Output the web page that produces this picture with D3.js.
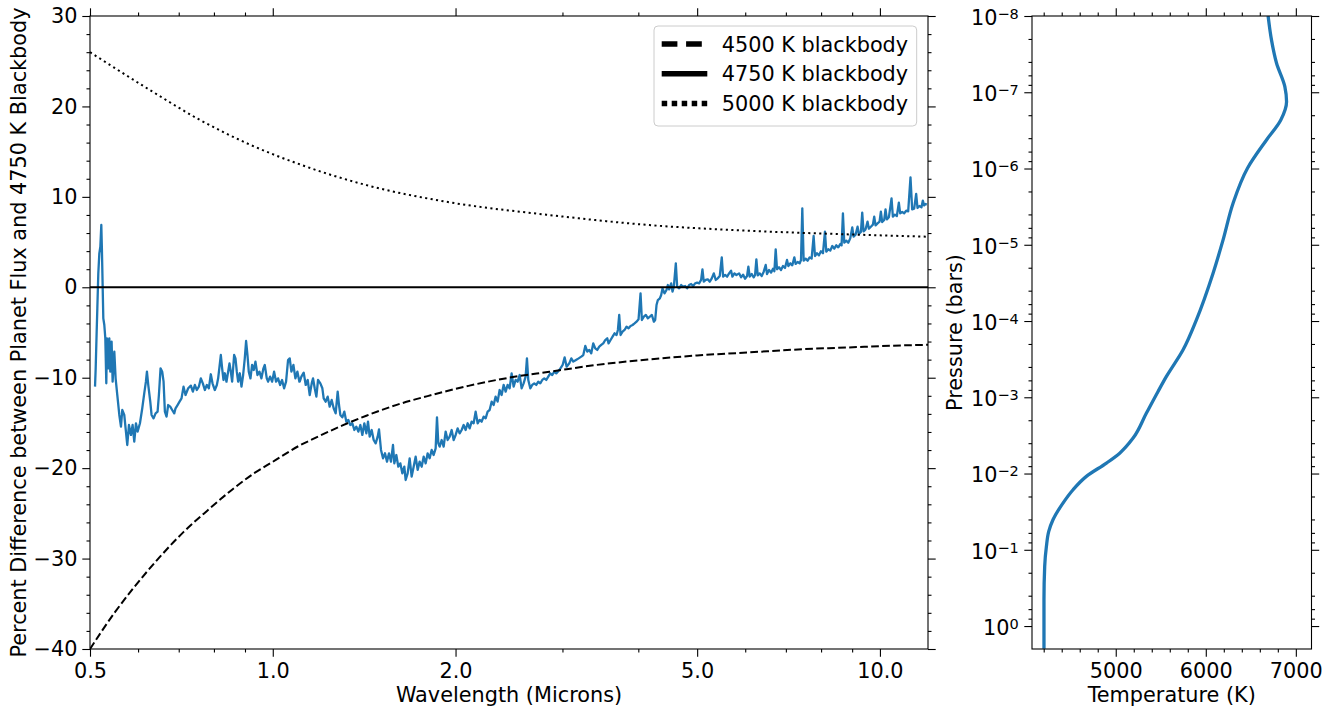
<!DOCTYPE html>
<html>
<head>
<meta charset="utf-8">
<script src="https://cdn.jsdelivr.net/npm/d3@7"></script>
<style>
  body { margin: 0; background: #fff; }
  svg { font-family: "DejaVu Sans", sans-serif; }
</style>
</head>
<body>
<svg id="chart" width="1334" height="709"></svg>
<script>
// ---- spectrum: percent difference vs wavelength (microns)
var specWave = [
  0.5096,0.5109,0.5128,0.5141,0.5160,0.5180,0.5200,0.5219,0.5232,0.5246,
  0.5259,0.5279,0.5299,0.5319,0.5332,0.5360,0.5380,0.5400,0.5427,0.5448,
  0.5483,0.5510,0.5545,0.5588,0.5623,0.5651,0.5694,0.5723,0.5759,0.5796,
  0.5840,0.5877,0.5914,0.5952,0.5989,0.6043,0.6096,0.6142,0.6181,0.6205,
  0.6236,0.6284,0.6315,0.6363,0.6412,0.6461,0.6493,0.6534,0.6575,0.6609,
  0.6642,0.6684,0.6726,0.6778,0.6829,0.6882,0.6916,0.6969,0.7022,0.7075,
  0.7129,0.7183,0.7256,0.7330,0.7386,0.7441,0.7498,0.7555,0.7613,0.7670,
  0.7729,0.7788,0.7847,0.7906,0.7957,0.8027,0.8089,0.8129,0.8171,0.8212,
  0.8253,0.8295,0.8337,0.8390,0.8443,0.8486,0.8529,0.8572,0.8637,0.8681,
  0.8725,0.8769,0.8825,0.8881,0.8937,0.8993,0.9038,0.9085,0.9130,0.9189,
  0.9246,0.9305,0.9364,0.9436,0.9507,0.9579,0.9652,0.9701,0.9775,0.9824,
  0.9899,0.9974,1.0050,1.0126,1.0203,1.0281,1.0359,1.0438,1.0517,1.0597,
  1.0664,1.0732,1.0814,1.0896,1.0979,1.1062,
  1.1076,1.1146,1.1245,1.1331,1.1417,1.1504,1.1592,1.1650,1.1724,1.1798,
  1.1873,1.1978,1.2069,1.2130,1.2222,1.2315,1.2409,1.2503,1.2598,1.2694,
  1.2791,1.2856,1.2921,1.3019,1.3118,1.3218,1.3319,1.3420,1.3522,1.3625,
  1.3729,1.3834,1.3939,1.4045,1.4152,1.4260,1.4350,1.4441,1.4551,1.4662,
  1.4773,1.4886,1.4961,1.5075,1.5190,1.5305,1.5422,1.5539,1.5658,1.5777,
  1.5857,1.5977,1.6099,1.6221,1.6345,1.6469,1.6552,1.6678,1.6805,1.6933,
  1.7062,1.7192,1.7323,1.7455,1.7588,1.7722,1.7857,1.7993,1.8130,1.8268,
  1.8407,1.8547,1.8641,1.8735,1.8830,1.8973,1.9118,1.9263,1.9410,1.9558,
  1.9707,1.9857,2.0008,2.0160,2.0314,2.0468,2.0624,2.0781,2.0939,2.1099,
  2.1259,2.1421,2.1584,2.1749,2.1914,2.2081,2.2249,2.2418,2.2589,2.2761,
  2.2934,2.3108,2.3284,2.3461,2.3640,2.3820,2.4001,2.4184,2.4368,2.4553,
  2.4740,2.4928,2.5118,2.5309,2.5502,2.5696,2.5891,2.6088,2.6220,2.6353,
  2.6553,2.6755,2.6959,2.7164,2.7371,2.7579,2.7789,2.8000,2.8213,2.8428,
  2.8644,2.8862,2.9082,2.9303,
  2.9646,3.0022,3.0251,3.0481,3.0789,3.1023,3.1259,3.1578,3.1897,3.2221,
  3.2466,3.2713,3.2960,3.3213,3.3463,3.3719,3.3975,3.4233,3.4494,3.4755,
  3.5019,3.5288,3.5555,3.5734,3.6006,3.6280,3.6555,3.6833,3.7020,3.7206,
  3.7396,3.7679,3.7967,3.8256,3.8548,3.8839,3.9136,3.9433,3.9732,4.0035,
  4.0339,4.0543,4.0851,4.1161,4.1474,4.1790,4.2109,4.2428,4.2643,4.2860,
  4.3077,4.3404,4.3624,4.3844,4.4177,4.4515,4.4740,4.4965,4.5309,4.5537,
  4.5768,4.6114,4.6348,4.6702,4.7057,4.7414,4.7774,4.8137,4.8502,4.8871,
  4.9244,4.9618,4.9994,5.0374,5.0758,5.1014,5.1272,5.1663,5.2056,5.2452,
  5.2850,5.3254,5.3658,5.4065,5.4477,5.4892,5.5170,5.5588,5.6011,5.6437,
  5.6866,5.7154,5.7588,5.8025,5.8616,
  5.906,5.951,5.996,6.042,6.072,6.103,6.150,6.196,6.228,6.259,
  6.291,6.339,6.387,6.436,6.484,6.517,6.567,6.617,6.667,6.701,
  6.735,6.769,6.820,6.872,6.924,6.977,7.030,7.066,7.119,7.173,
  7.228,7.265,7.320,7.376,7.413,7.450,7.488,7.545,7.602,7.660,
  7.718,7.777,7.817,7.876,7.936,7.996,8.057,8.118,8.159,8.221,
  8.284,8.347,8.410,8.474,8.539,8.604,8.647,8.691,8.735,8.801,
  8.868,8.936,9.004,9.049,9.118,9.187,9.234,9.304,9.351,9.398,
  9.470,9.542,9.590,9.663,9.737,9.786,9.835,9.910,9.986,10.036,
  10.087,10.164,10.215,10.267,10.345,10.450,10.503,10.583,10.663,10.744,
  10.799,10.881,10.963,11.047,11.131,11.229,11.301,11.387,11.473,11.531,
  11.619,11.707,11.766,11.826,11.886,11.946
];
var specDiff = [
  -10.99,-8.96,-4.91,-2.33,1.54,3.75,4.49,6.89,3.94,0.07,
  -3.43,-4.17,-5.64,-10.62,-5.64,-8.96,-5.64,-9.33,-6.01,-10.44,
  -7.12,-10.07,-11.91,-14.12,-15.41,-13.57,-14.12,-15.60,-17.44,-15.23,
  -16.33,-15.23,-17.07,-15.04,-15.96,-15.04,-13.38,-11.73,-10.44,-9.33,
  -10.80,-12.65,-14.12,-14.49,-13.94,-13.75,-11.91,-8.96,-9.33,-10.44,
  -13.75,-14.31,-13.02,-13.20,-13.57,-13.94,-13.38,-13.02,-12.65,-12.28,
  -10.99,-11.91,-11.17,-10.88,-11.54,-10.80,-11.36,-10.99,-10.07,-10.62,
  -11.36,-10.80,-11.17,-9.62,-10.62,-11.36,-10.80,-10.07,-8.78,-7.49,
  -8.96,-10.25,-9.51,-10.44,-9.33,-8.41,-9.33,-10.44,-7.49,-7.86,
  -9.33,-10.44,-9.51,-10.99,-9.70,-7.86,-5.94,-7.49,-9.33,-10.07,
  -8.59,-9.15,-8.22,-9.70,-9.33,-10.07,-8.96,-8.59,-10.07,-10.44,
  -9.88,-10.44,-9.33,-10.44,-10.07,-10.80,-10.25,-11.17,-10.44,-8.04,
  -7.86,-9.33,-8.59,-10.07,-9.33,-10.44,
  -10.44,-9.88,-9.44,-10.80,-10.25,-11.91,-10.62,-10.07,-11.17,-12.09,
  -10.25,-10.62,-11.17,-12.28,-12.65,-12.09,-13.20,-12.46,-13.38,-13.94,
  -11.54,-13.02,-14.12,-14.38,-13.75,-14.86,-14.67,-15.23,-15.04,-15.78,
  -15.41,-15.96,-15.23,-16.33,-15.04,-16.15,-14.86,-16.52,-15.78,-16.89,
  -17.26,-16.52,-15.71,-17.99,-18.91,-18.36,-19.28,-18.36,-19.28,-17.44,
  -19.47,-18.55,-19.84,-19.47,-20.57,-19.84,-21.31,-20.57,-18.91,-20.94,
  -19.84,-18.73,-20.20,-19.28,-19.84,-18.73,-19.47,-18.36,-18.91,-17.99,
  -18.55,-17.81,-14.38,-17.26,-17.62,-16.89,-17.62,-15.96,-16.89,-16.52,
  -15.78,-16.89,-16.33,-15.60,-16.15,-15.78,-15.23,-15.78,-15.04,-15.60,
  -14.86,-15.04,-13.75,-15.04,-14.67,-14.86,-14.31,-14.49,-13.75,-13.57,
  -12.65,-13.02,-12.09,-12.65,-11.36,-11.91,-10.80,-11.54,-10.80,-11.17,
  -9.52,-10.99,-10.25,-10.44,-9.70,-11.17,-10.62,-9.88,-7.86,-10.25,
  -11.17,-10.80,-10.62,-10.80,-10.44,-10.62,-10.25,-10.07,-10.25,-9.88,
  -9.52,-9.70,-9.33,-9.52,
  -9.15,-8.59,-7.75,-8.78,-8.41,-7.86,-8.22,-8.04,-7.86,-7.67,
  -7.49,-6.49,-7.12,-6.93,-7.30,-6.20,-6.75,-6.93,-6.57,-6.38,
  -6.20,-5.83,-5.64,-6.20,-5.83,-5.46,-5.09,-5.28,-4.72,-3.06,
  -5.28,-4.91,-4.72,-4.35,-4.54,-4.28,-4.17,-3.99,-3.80,-3.54,
  -0.67,-3.62,-3.25,-3.06,-3.43,-3.25,-3.06,-3.80,-3.62,-1.96,
  -1.41,-1.22,-0.85,-0.12,-0.67,-0.30,0.25,-0.23,0.44,-0.48,
  0.07,2.65,0.07,-0.12,0.25,0.07,0.14,-0.12,0.25,0.36,
  0.14,0.44,0.51,0.44,0.81,1.99,0.62,0.81,0.88,0.62,
  0.99,1.54,0.81,0.99,1.25,3.31,1.17,1.36,1.17,1.54,
  1.84,1.17,1.54,1.36,1.54,
  1.10,1.40,0.95,1.25,2.28,1.18,1.47,1.10,1.36,3.09,
  1.32,1.54,1.25,1.73,2.47,1.47,1.91,1.62,2.06,1.77,
  4.20,1.99,2.21,1.91,2.35,2.13,3.02,2.35,2.65,2.43,
  3.31,2.58,2.80,2.65,3.02,8.73,2.94,3.17,2.94,3.31,
  3.17,5.67,3.46,3.76,3.53,3.98,3.76,6.15,3.94,4.20,
  4.05,4.57,4.27,4.64,4.42,4.79,4.64,8.18,4.93,5.16,
  4.93,5.41,6.63,5.60,5.82,6.70,5.89,6.11,8.25,6.19,
  6.41,7.26,6.48,6.70,6.93,7.81,6.85,7.07,7.26,8.36,
  7.22,7.44,8.62,7.51,7.74,9.84,7.81,8.03,7.88,9.36,
  8.18,8.33,8.18,8.47,8.40,12.16,8.62,8.69,10.32,8.77,
  8.99,8.84,9.58,9.06,9.21,9.14
];

// ---- blackbody comparison curves (percent difference to 4750 K)
var bb4500Wave = [0.5, 0.55, 0.589, 0.65, 0.712, 0.78, 0.86, 0.93, 1.0, 1.107, 1.18, 1.3, 1.426,
                  1.6, 1.83, 2.1, 2.5, 2.855, 3.4, 4.17, 5.0, 6.09, 7.5, 8.89, 10.5, 12.0];
var bb4500Diff = [-40.0, -35.9, -33.3, -29.9, -27.1, -24.7, -22.3, -20.6, -19.3, -17.5, -16.6, -15.3, -14.2,
                  -13.0, -11.9, -10.9, -9.9, -9.35, -8.6, -7.98, -7.54, -7.2, -6.84, -6.65, -6.46, -6.36];
var bb4750Wave = [0.5, 12.0];
var bb4750Diff = [0, 0];
var bb5000Wave = [0.5, 0.628, 0.759, 0.905, 1.107, 1.426, 1.954, 2.855, 4.17, 6.09, 8.89, 12.0];
var bb5000Diff = [26.0, 21.8, 18.5, 15.95, 13.6, 11.3, 9.4, 7.99, 6.88, 6.25, 5.85, 5.59];

// ---- temperature-pressure profile
var tpTemp = [6692, 6730, 6786, 6878, 6897, 6833, 6674, 6463, 6303, 6192, 6081, 5896,
              5748, 5563, 5470, 5341, 5193, 5044, 4897, 4674, 4526, 4414, 4303, 4256, 4230, 4211, 4203, 4203];
var tpPres = [1.0e-8, 2.07e-8, 4.17e-8, 8.45e-8, 1.33e-7, 2.31e-7, 4.22e-7, 9.91e-7, 2.85e-6, 8.63e-6,
              2.36e-5, 9.64e-5, 2.38e-4, 5.33e-4, 8.39e-4, 1.61e-3, 3.43e-3, 5.40e-3, 7.29e-3,
              1.09e-2, 1.63e-2, 2.44e-2, 4.04e-2, 5.74e-2, 9.02e-2, 0.165, 0.451, 1.98];

// ---- axis domains and ticks
var waveDomain = [0.5, 12];
var diffDomain = [-40, 30];
var tempDomain = [4070, 7174];
var presDomain = [1e-8, 2];
var waveMajor = [0.5, 1, 2, 5, 10];
var waveMinor = [0.6, 0.7, 0.8, 0.9, 3, 4, 6, 7, 8, 9];
var diffMajor = [-40, -30, -20, -10, 0, 10, 20, 30];
var diffMinor = [-38, -36, -34, -32, -28, -26, -24, -22, -18, -16, -14, -12, -8, -6, -4, -2,
                 2, 4, 6, 8, 12, 14, 16, 18, 22, 24, 26, 28];
var tempMajor = [5000, 6000, 7000];
var tempMinor = [4200, 4400, 4600, 4800, 5200, 5400, 5600, 5800, 6200, 6400, 6600, 6800];
var presMajor = [1e-8, 1e-7, 1e-6, 1e-5, 1e-4, 1e-3, 1e-2, 1e-1, 1e0];
var presSubs = [2, 4, 6, 8];

var legendLabels = ["4500 K blackbody", "4750 K blackbody", "5000 K blackbody"];

var FS = 20.8;
var svg = d3.select("#chart");
var L = {left: 90, right: 928, top: 16, bottom: 649};
var R = {left: 1032, right: 1311.5, top: 16, bottom: 649};

var x = d3.scaleLog().domain(waveDomain).range([L.left, L.right]);
var y = d3.scaleLinear().domain(diffDomain).range([L.bottom, L.top]);
var tx = d3.scaleLinear().domain(tempDomain).range([R.left, R.right]);
var py = d3.scaleLog().domain(presDomain).range([R.top, R.bottom]);

var presMinor = [];
presMajor.slice(0, -1).forEach(function(p) {
  presSubs.forEach(function(s) { presMinor.push(p * s); });
});

function axis(maker, scale, dx, dy, values, size, fmt, pad) {
  var a = maker(scale).tickValues(values).tickSize(size).tickSizeOuter(0)
    .tickPadding(pad || 3).tickFormat(fmt || function() { return ""; });
  var g = svg.append("g").attr("transform", "translate(" + dx + "," + dy + ")").call(a)
    .attr("font-family", null).attr("font-size", null);
  g.select(".domain").remove();
  g.selectAll(".tick line").attr("stroke", "#000").attr("stroke-width", 1.1);
  g.selectAll(".tick text").attr("fill", "#000").attr("font-size", FS);
  return g;
}

// clip areas
var defs = svg.append("defs");
defs.append("clipPath").attr("id", "clipL").append("rect")
  .attr("x", L.left).attr("y", L.top).attr("width", L.right - L.left).attr("height", L.bottom - L.top);
defs.append("clipPath").attr("id", "clipR").append("rect")
  .attr("x", R.left).attr("y", R.top).attr("width", R.right - R.left).attr("height", R.bottom - R.top);

// ---- left panel lines
var lineL = d3.line().x(function(d) { return x(d[0]); }).y(function(d) { return y(d[1]); });
var lineSmooth = d3.line().x(function(d) { return x(d[0]); }).y(function(d) { return y(d[1]); })
  .curve(d3.curveMonotoneX);

var gL = svg.append("g").attr("clip-path", "url(#clipL)");
gL.append("path").datum(d3.zip(specWave, specDiff))
  .attr("d", lineL).attr("fill", "none").attr("stroke", "#1f77b4")
  .attr("stroke-width", 2.3).attr("stroke-linejoin", "round");
gL.append("path").datum(d3.zip(bb4500Wave, bb4500Diff))
  .attr("d", lineSmooth).attr("fill", "none").attr("stroke", "#000")
  .attr("stroke-width", 2).attr("stroke-dasharray", "7.7 3.3");
gL.append("path").datum(d3.zip(bb4750Wave, bb4750Diff))
  .attr("d", lineL).attr("fill", "none").attr("stroke", "#000").attr("stroke-width", 2);
gL.append("path").datum(d3.zip(bb5000Wave, bb5000Diff))
  .attr("d", lineSmooth).attr("fill", "none").attr("stroke", "#000")
  .attr("stroke-width", 2).attr("stroke-dasharray", "2.1 3.4");

// left axes
axis(d3.axisBottom, x, 0, L.bottom, waveMajor, 7.7, d3.format(".1f"), 6.5);
axis(d3.axisBottom, x, 0, L.bottom, waveMinor, 3.5);
axis(d3.axisTop, x, 0, L.top, waveMajor, 7.7);
axis(d3.axisTop, x, 0, L.top, waveMinor, 3.5);
axis(d3.axisLeft, y, L.left, 0, diffMajor, 7.7, d3.format("d"), 4.8);
axis(d3.axisLeft, y, L.left, 0, diffMinor, 3.5);
axis(d3.axisRight, y, L.right, 0, diffMajor, 7.7);
axis(d3.axisRight, y, L.right, 0, diffMinor, 3.5);

svg.append("rect").attr("x", L.left).attr("y", L.top)
  .attr("width", L.right - L.left).attr("height", L.bottom - L.top)
  .attr("fill", "none").attr("stroke", "#000").attr("stroke-width", 1.1);

svg.append("text").attr("x", (L.left + L.right) / 2).attr("y", 702)
  .attr("text-anchor", "middle").attr("font-size", FS).text("Wavelength (Microns)");
svg.append("text").attr("transform", "translate(25.5," + (L.top + L.bottom) / 2 + ") rotate(-90)")
  .attr("text-anchor", "middle").attr("font-size", FS)
  .text("Percent Difference between Planet Flux and 4750 K Blackbody");

// legend
var leg = svg.append("g");
leg.append("rect").attr("x", 654).attr("y", 26).attr("width", 262.7).attr("height", 100)
  .attr("rx", 4).attr("fill", "#fff").attr("fill-opacity", 0.8)
  .attr("stroke", "#cccccc").attr("stroke-width", 1);
var legDash = ["15.7 8.7", null, "5.5 4.5"];
legendLabels.forEach(function(lab, i) {
  var ry = 44 + i * 29.7;
  var ln = leg.append("line").attr("x1", 661.7).attr("x2", 707.3).attr("y1", ry).attr("y2", ry)
    .attr("stroke", "#000").attr("stroke-width", 5.5);
  if (legDash[i]) ln.attr("stroke-dasharray", legDash[i]);
  leg.append("text").attr("x", 721.7).attr("y", ry + 7.5).attr("font-size", FS).text(lab);
});

// ---- right panel
var lineR = d3.line().x(function(d) { return tx(d[0]); }).y(function(d) { return py(d[1]); })
  .curve(d3.curveMonotoneY);
svg.append("g").attr("clip-path", "url(#clipR)")
  .append("path").datum(d3.zip(tpTemp, tpPres))
  .attr("d", lineR).attr("fill", "none").attr("stroke", "#1f77b4")
  .attr("stroke-width", 3.3).attr("stroke-linejoin", "round");

axis(d3.axisBottom, tx, 0, R.bottom, tempMajor, 7.7, d3.format("d"), 6.5);
axis(d3.axisBottom, tx, 0, R.bottom, tempMinor, 3.5);
axis(d3.axisTop, tx, 0, R.top, tempMajor, 7.7);
axis(d3.axisTop, tx, 0, R.top, tempMinor, 3.5);
var gp = axis(d3.axisLeft, py, R.left, 0, presMajor, 7.7, function() { return ""; }, 5.5);
gp.selectAll(".tick text").each(function(d) {
  var e = Math.round(Math.log10(d));
  var t = d3.select(this).attr("dy", "0.4em");
  t.append("tspan").text("10");
  t.append("tspan").attr("dy", "-0.42em").attr("font-size", 14.5)
    .text(e < 0 ? "\u2212" + (-e) : String(e));
});
axis(d3.axisLeft, py, R.left, 0, presMinor, 3.5);
axis(d3.axisRight, py, R.right, 0, presMajor, 7.7);
axis(d3.axisRight, py, R.right, 0, presMinor, 3.5);

svg.append("rect").attr("x", R.left).attr("y", R.top)
  .attr("width", R.right - R.left).attr("height", R.bottom - R.top)
  .attr("fill", "none").attr("stroke", "#000").attr("stroke-width", 1.1);

svg.append("text").attr("x", (R.left + R.right) / 2).attr("y", 702)
  .attr("text-anchor", "middle").attr("font-size", FS).text("Temperature (K)");
svg.append("text").attr("transform", "translate(962," + (R.top + R.bottom) / 2 + ") rotate(-90)")
  .attr("text-anchor", "middle").attr("font-size", FS).text("Pressure (bars)");
</script>
</body>
</html>
